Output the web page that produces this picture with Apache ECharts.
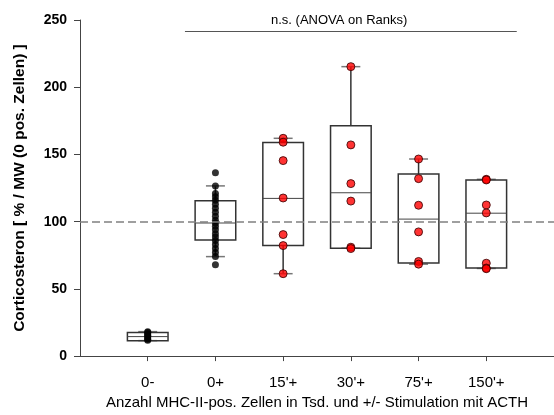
<!DOCTYPE html>
<html>
<head>
<meta charset="utf-8">
<script src="https://cdn.jsdelivr.net/npm/echarts@6.0.0/dist/echarts.min.js"></script>
<style>
  html, body { margin: 0; padding: 0; background: #fff; }
  #main { width: 554px; height: 415px; }
</style>
</head>
<body>
<div id="main"></div>
<script>
// categories on the x axis
const categories = ["0-", "0+", "15'+", "30'+", "75'+", "150'+"];
const yTicks = [0, 50, 100, 150, 200, 250];

// box stats per group: [whisker low, q1, median, q3, whisker high]
const box0m = [11.5, 11.5, 14.5, 17.5, 18.2];
const box0p = [74, 86.3, 99, 115.6, 126.6];
const box15 = [61.3, 82.2, 117.3, 158.8, 162];
const box30 = [80.2, 80.2, 121.5, 171.4, 215.3];
const box75 = [68.4, 69.2, 101.9, 135.4, 146.6];
const box150 = [65.2, 65.5, 106.3, 131, 131.5];

// single measurements per group
const pts0m = [18.2, 17.5, 16.5, 15.5, 14.5, 13.5, 12.5, 11.8];
const pts0p = [136.4, 126.6, 121, 118.5, 116, 113, 110, 107, 104, 101, 99,
               96.5, 94, 91, 88.5, 86, 83, 80, 77, 74, 67.9];
const pts15 = [162, 159.1, 145.4, 117.6, 90.4, 82.2, 61.3];
const pts30 = [215.3, 157.1, 128.3, 115.3, 81, 80];
const pts75 = [146.6, 132, 112.2, 92.4, 70.4, 68.4];
const pts150 = [131.5, 131, 112.4, 106.5, 69.1, 65.5, 65];

const refLine = 100;
const sigLine = { from: 0.55, to: 5.45, y: 241.4 };

const boxes = [box0m, box0p, box15, box30, box75, box150];
const boxData = boxes.map((b, i) => [i].concat(b));
const blackPts = [];
const redPts = [];
[pts0m, pts0p].forEach((arr, i) => arr.forEach(v => blackPts.push([i, v])));
[pts15, pts30, pts75, pts150].forEach((arr, i) => arr.forEach(v => redPts.push([i + 2, v])));

const font = "'Liberation Sans', Arial, sans-serif";

function renderBox(params, api) {
  const x = api.value(0);
  const half = api.size([0.3, 0])[0];
  const cap = api.size([0.14, 0])[0];
  const ys = [1, 2, 3, 4, 5].map(i => api.coord([x, api.value(i)])[1]);
  const cx = api.coord([x, 0])[0];
  const dark = { stroke: '#333', lineWidth: 1.5, fill: null };
  const capStyle = { stroke: '#777', lineWidth: 1.5, fill: null };
  return {
    type: 'group',
    children: [
      { type: 'line', shape: { x1: cx, y1: ys[3], x2: cx, y2: ys[4] }, style: dark },
      { type: 'line', shape: { x1: cx, y1: ys[1], x2: cx, y2: ys[0] }, style: dark },
      { type: 'line', shape: { x1: cx - cap, y1: ys[4], x2: cx + cap, y2: ys[4] }, style: capStyle },
      { type: 'line', shape: { x1: cx - cap, y1: ys[0], x2: cx + cap, y2: ys[0] }, style: capStyle },
      { type: 'rect', shape: { x: cx - half, y: ys[3], width: 2 * half, height: ys[1] - ys[3] },
        style: { fill: 'transparent', stroke: '#333', lineWidth: 1.5 } },
      { type: 'line', shape: { x1: cx - half, y1: ys[2], x2: cx + half, y2: ys[2] },
        style: { stroke: '#444', lineWidth: 1, fill: null } }
    ]
  };
}

const chart = echarts.init(document.getElementById('main'));
chart.setOption({
  animation: false,
  backgroundColor: '#fff',
  grid: { left: 80, right: 0, top: 20, bottom: 54 },
  xAxis: {
    type: 'value',
    min: -1,
    max: 6,
    splitLine: { show: false },
    axisLine: { onZero: false, lineStyle: { color: '#444', width: 1 } },
    axisTick: { customValues: [0, 1, 2, 3, 4, 5], length: 5, lineStyle: { color: '#444' } },
    axisLabel: {
      customValues: [0, 1, 2, 3, 4, 5],
      formatter: v => categories[v],
      margin: 19,
      fontSize: 15,
      color: '#000',
      fontFamily: font
    },
    name: 'Anzahl MHC-II-pos. Zellen in Tsd. und +/- Stimulation mit ACTH',
    nameLocation: 'middle',
    nameGap: 38,
    nameTextStyle: { fontSize: 15, color: '#000', fontFamily: font }
  },
  yAxis: {
    type: 'value',
    min: yTicks[0],
    max: yTicks[yTicks.length - 1],
    interval: 50,
    splitLine: { show: false },
    axisLine: { show: true, onZero: false, lineStyle: { color: '#444', width: 1 } },
    axisTick: { show: true, length: 6, lineStyle: { color: '#444' } },
    axisLabel: { fontSize: 14, fontWeight: 'bold', color: '#000', margin: 13, fontFamily: font },
    name: 'Corticosteron [ % / MW (0 pos. Zellen) ]',
    nameLocation: 'middle',
    nameGap: 52,
    nameTextStyle: { fontSize: 15.5, fontWeight: 'bold', color: '#000', fontFamily: font }
  },
  graphic: [{
    type: 'text',
    left: 271,
    top: 14,
    style: { text: 'n.s. (ANOVA on Ranks)', fontSize: 13, fill: '#000', fontFamily: font }
  }],
  series: [
    {
      type: 'custom',
      renderItem: renderBox,
      encode: { x: 0, y: [1, 2, 3, 4, 5] },
      data: boxData,
      z: 2,
      markLine: {
        silent: true,
        symbol: 'none',
        label: { show: false },
        data: [
          { yAxis: refLine, lineStyle: { color: '#808080', width: 1.5, type: [8, 4] } },
          [
            { coord: [sigLine.from, sigLine.y] },
            { coord: [sigLine.to, sigLine.y], lineStyle: { color: '#555', width: 1, type: 'solid' } }
          ]
        ]
      }
    },
    {
      type: 'scatter',
      data: blackPts,
      symbolSize: 7,
      itemStyle: { color: '#000' },
      z: 4
    },
    {
      type: 'scatter',
      data: redPts,
      symbolSize: 8,
      itemStyle: { color: '#ff0000', borderColor: '#300', borderWidth: 1 },
      z: 4
    }
  ]
});
</script>
</body>
</html>
